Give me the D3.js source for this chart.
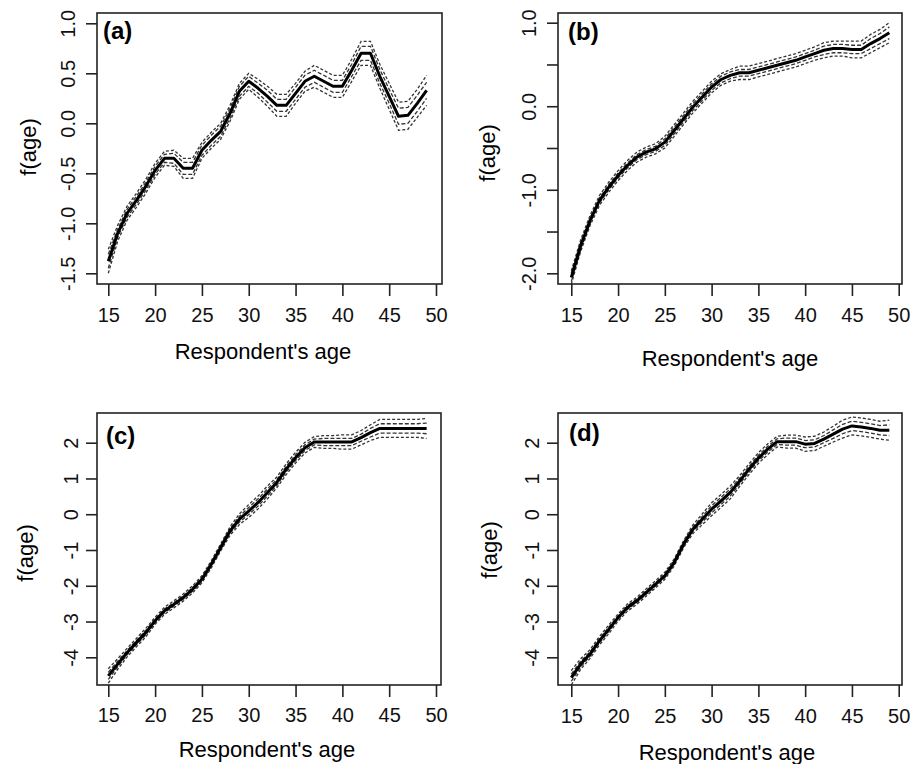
<!DOCTYPE html>
<html>
<head>
<meta charset="utf-8">
<script src="https://cdn.jsdelivr.net/npm/d3@7"></script>
<style>
  body { margin: 0; background: #fff; }
  svg { font-family: "Liberation Sans", Arial, sans-serif; }
</style>
</head>
<body>
<div id="wrapper"></div>
<script>
// ages on the x axis
var ages = [15,16,17,18,19,20,21,22,23,24,25,26,27,28,29,30,31,32,33,34,35,36,37,38,39,40,41,42,43,44,45,46,47,48,49];
var xTicks = [15,20,25,30,35,40,45,50];

// (a)
var aFit   = [-1.38,-1.10,-0.90,-0.77,-0.63,-0.47,-0.35,-0.35,-0.45,-0.45,-0.27,-0.17,-0.08,0.10,0.32,0.42,0.35,0.27,0.18,0.18,0.30,0.42,0.47,0.42,0.37,0.37,0.53,0.70,0.70,0.47,0.27,0.07,0.08,0.20,0.33];
var aOuter = [0.12,0.08,0.07,0.07,0.07,0.07,0.07,0.08,0.10,0.10,0.08,0.08,0.08,0.08,0.08,0.08,0.09,0.10,0.11,0.11,0.10,0.10,0.11,0.11,0.11,0.11,0.11,0.12,0.12,0.12,0.13,0.14,0.14,0.14,0.15];
var aInner = [0.07,0.04,0.04,0.04,0.04,0.04,0.04,0.05,0.06,0.06,0.05,0.05,0.05,0.05,0.05,0.05,0.05,0.06,0.06,0.06,0.06,0.06,0.06,0.06,0.06,0.06,0.06,0.07,0.07,0.07,0.07,0.08,0.08,0.08,0.08];
var aTicks = [-1.5,-1.0,-0.5,0.0,0.5,1.0];
var aLabels = [-1.5,-1.0,-0.5,0.0,0.5,1.0];

// (b)
var bFit   = [-2.05,-1.67,-1.37,-1.13,-0.97,-0.83,-0.71,-0.61,-0.55,-0.51,-0.43,-0.29,-0.15,-0.01,0.11,0.23,0.32,0.37,0.40,0.40,0.43,0.46,0.49,0.52,0.55,0.59,0.63,0.67,0.69,0.69,0.68,0.68,0.75,0.81,0.88];
var bOuter = [0.08,0.07,0.06,0.06,0.06,0.06,0.06,0.06,0.06,0.06,0.07,0.07,0.07,0.07,0.07,0.07,0.07,0.07,0.08,0.08,0.08,0.08,0.08,0.08,0.08,0.08,0.08,0.09,0.09,0.09,0.10,0.10,0.11,0.11,0.12];
var bInner = [0.05,0.04,0.03,0.03,0.03,0.03,0.03,0.03,0.03,0.03,0.04,0.04,0.04,0.04,0.04,0.04,0.04,0.04,0.04,0.04,0.04,0.04,0.04,0.04,0.04,0.04,0.04,0.05,0.05,0.05,0.05,0.05,0.06,0.06,0.07];
var bTicks = [-2.0,-1.5,-1.0,-0.5,0.0,0.5,1.0];
var bLabels = [-2.0,-1.0,0.0,1.0];

// (c)
var cFit   = [-4.52,-4.19,-3.87,-3.59,-3.31,-2.98,-2.70,-2.52,-2.33,-2.10,-1.82,-1.40,-0.93,-0.47,-0.14,0.09,0.33,0.61,0.89,1.26,1.58,1.86,2.02,2.02,2.02,2.02,2.02,2.14,2.28,2.40,2.40,2.40,2.40,2.40,2.40];
var cOuter = [0.20,0.15,0.12,0.12,0.12,0.10,0.10,0.10,0.10,0.10,0.10,0.10,0.10,0.12,0.15,0.18,0.18,0.18,0.15,0.15,0.15,0.15,0.15,0.18,0.18,0.20,0.20,0.20,0.22,0.25,0.25,0.25,0.25,0.25,0.28];
var cInner = [0.10,0.08,0.06,0.06,0.06,0.05,0.05,0.05,0.05,0.05,0.05,0.05,0.05,0.06,0.08,0.10,0.10,0.10,0.08,0.08,0.08,0.08,0.08,0.10,0.10,0.10,0.10,0.10,0.12,0.13,0.13,0.13,0.13,0.13,0.15];
var cTicks = [-4,-3,-2,-1,0,1,2];

// (d)
var dFit   = [-4.57,-4.19,-3.91,-3.54,-3.22,-2.89,-2.61,-2.42,-2.19,-1.96,-1.72,-1.35,-0.84,-0.42,-0.14,0.14,0.37,0.61,0.93,1.26,1.57,1.82,2.03,2.03,2.03,1.96,1.98,2.10,2.24,2.38,2.47,2.44,2.40,2.35,2.35];
var dOuter = [0.20,0.15,0.12,0.12,0.12,0.10,0.10,0.10,0.10,0.10,0.10,0.10,0.10,0.12,0.15,0.18,0.18,0.18,0.15,0.15,0.15,0.15,0.15,0.18,0.18,0.20,0.20,0.20,0.22,0.25,0.25,0.25,0.25,0.25,0.28];
var dInner = [0.10,0.08,0.06,0.06,0.06,0.05,0.05,0.05,0.05,0.05,0.05,0.05,0.05,0.06,0.08,0.10,0.10,0.10,0.08,0.08,0.08,0.08,0.08,0.10,0.10,0.10,0.10,0.10,0.12,0.13,0.13,0.13,0.13,0.13,0.15];

var panels = [
  {tag:"(a)", fit:aFit, inner:aInner, outer:aOuter, ticks:aTicks, labels:aLabels, fmt:".1f",
   box:[97,13,442,284], xr:[108.3,436], yd:[-1.5,1.0], yr:[273.3,23.3],
   tagPos:[103,39], yLab:[28,147], xLab:[263,359], tickBase:322, yNum:29},
  {tag:"(b)", fit:bFit, inner:bInner, outer:bOuter, ticks:bTicks, labels:bLabels, fmt:".1f",
   box:[558,13,902,284], xr:[571.3,898.7], yd:[-2.0,1.0], yr:[273.3,22.7],
   tagPos:[568,40], yLab:[487,153], xLab:[730,366], tickBase:322, yNum:29},
  {tag:"(c)", fit:cFit, inner:cInner, outer:cOuter, ticks:cTicks, labels:cTicks, fmt:"d",
   box:[97,413,441,685], xr:[108.3,436], yd:[-4,2], yr:[657.3,442.7],
   tagPos:[106,444], yLab:[25,553], xLab:[267,757], tickBase:722, yNum:26},
  {tag:"(d)", fit:dFit, inner:dInner, outer:dOuter, ticks:cTicks, labels:cTicks, fmt:"d",
   box:[558,413,902,685], xr:[571.3,898.7], yd:[-4,2], yr:[657.3,442.7],
   tagPos:[569,441], yLab:[489,550], xLab:[727,760], tickBase:723, yNum:26}
];

var svg = d3.select("#wrapper").append("svg")
  .attr("width", 917).attr("height", 764);

panels.forEach(function(p) {
  var x = d3.scaleLinear().domain([15, 50]).range(p.xr);
  var y = d3.scaleLinear().domain(p.yd).range(p.yr);
  var g = svg.append("g");
  // R prints a plain hyphen, not the unicode minus
  var fmt = function(v) { return d3.format(p.fmt)(v).replace("\u2212", "-"); };

  // confidence bands, two dashed lines either side
  [[p.outer, 1, "3,2"], [p.inner, 1, "4,2"], [p.inner, -1, "4,2"], [p.outer, -1, "3,2"]].forEach(function(b) {
    var line = d3.line()
      .x(function(d, i) { return x(ages[i]); })
      .y(function(d, i) { return y(d + b[1] * b[0][i]); });
    g.append("path")
      .datum(p.fit)
      .attr("d", line)
      .attr("fill", "none")
      .attr("stroke", "#333")
      .attr("stroke-width", 1.3)
      .attr("stroke-dasharray", b[2]);
  });

  // fitted curve
  g.append("path")
    .datum(p.fit)
    .attr("d", d3.line()
      .x(function(d, i) { return x(ages[i]); })
      .y(function(d) { return y(d); }))
    .attr("fill", "none")
    .attr("stroke", "#000")
    .attr("stroke-width", 3)
    .attr("stroke-linejoin", "round");

  // box
  g.append("rect")
    .attr("x", p.box[0]).attr("y", p.box[1])
    .attr("width", p.box[2] - p.box[0]).attr("height", p.box[3] - p.box[1])
    .attr("fill", "none").attr("stroke", "#222").attr("stroke-width", 1.6);

  // x axis
  var xa = g.append("g")
    .attr("transform", "translate(0," + p.box[3] + ")")
    .call(d3.axisBottom(x).tickValues(xTicks).tickSize(12).tickSizeOuter(0));
  xa.select(".domain").remove();
  xa.selectAll("line").attr("stroke", "#222").attr("stroke-width", 1.6);
  xa.selectAll("text")
    .attr("y", p.tickBase - p.box[3]).attr("dy", 0)
    .attr("font-size", 20).attr("fill", "#111");

  // y axis
  var ya = g.append("g")
    .attr("transform", "translate(" + p.box[0] + ",0)")
    .call(d3.axisLeft(y).tickValues(p.ticks).tickSize(11).tickSizeOuter(0)
      .tickFormat(function(d) { return p.labels.indexOf(d) >= 0 ? fmt(d) : ""; }));
  ya.select(".domain").remove();
  ya.selectAll("line").attr("stroke", "#222").attr("stroke-width", 1.6);
  ya.selectAll("text")
    .attr("x", 0).attr("dy", "0.35em")
    .attr("transform", "translate(" + (-p.yNum) + ",0) rotate(-90)")
    .attr("text-anchor", "middle")
    .attr("font-size", 20).attr("fill", "#111");

  // titles
  g.append("text")
    .attr("x", p.xLab[0]).attr("y", p.xLab[1])
    .attr("text-anchor", "middle")
    .attr("font-size", 22)
    .text("Respondent's age");

  g.append("text")
    .attr("transform", "translate(" + p.yLab[0] + "," + p.yLab[1] + ") rotate(-90)")
    .attr("dy", "0.35em")
    .attr("text-anchor", "middle")
    .attr("font-size", 22)
    .text("f(age)");

  g.append("text")
    .attr("x", p.tagPos[0]).attr("y", p.tagPos[1])
    .attr("font-size", 24).attr("font-weight", "bold")
    .text(p.tag);
});
</script>
</body>
</html>
